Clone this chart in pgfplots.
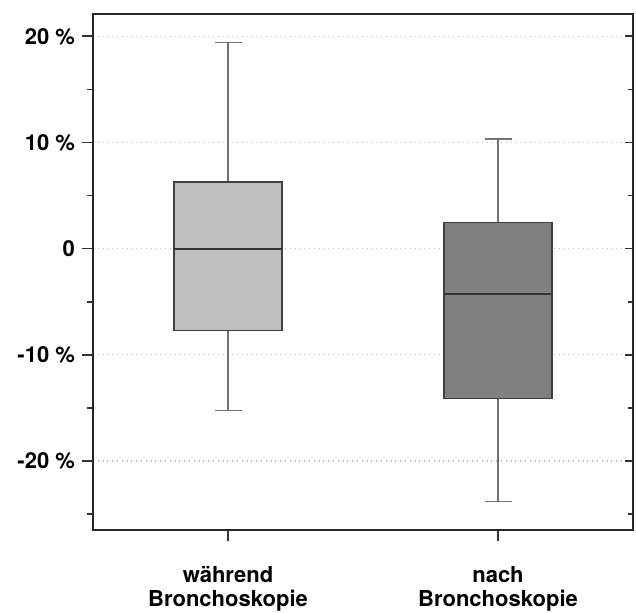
\documentclass[border=0pt]{standalone}
\usepackage{fontspec}
\setmainfont{TeX Gyre Heros}
\usepackage{pgfplots}
\pgfplotsset{compat=1.18}
\usepgfplotslibrary{statistics}
\begin{document}
\begin{tikzpicture}
\useasboundingbox (-46.5pt,-41pt) rectangle (271.5pt,265pt);
\begin{axis}[
 at={(0,0)}, anchor=south west,
 width=270pt, height=258pt, scale only axis,
 xmin=0.5, xmax=2.5, ymin=-26.5, ymax=22.1,
 xtick={1,2}, xticklabels={während\\Bronchoskopie, nach\\Bronchoskopie},
 xticklabel style={align=center, font=\bfseries\fontsize{11}{12}\selectfont, yshift=-9pt},
 ytick={-20,-10,0,10,20}, yticklabels={-20 \%,-10 \%,0,10 \%,20 \%},
 minor ytick={-25,-15,-5,5,15},
 yticklabel style={font=\bfseries\fontsize{11}{12}\selectfont},
 tick align=outside, xtick pos=bottom, ytick pos=left,
 major tick length=5.5pt, minor tick length=3pt,
 every tick/.style={line width=0.8pt, black!80},
 ymajorgrids, major grid style={dotted, line width=0.6pt, gray!55},
 axis line style={line width=1pt, black!85},
 boxplot/draw direction=y,
 boxplot/every box/.style={draw=black!75, line width=0.6pt},
 boxplot/every whisker/.style={draw=black!55, line width=0.7pt},
 boxplot/every median/.style={draw=black!80, line width=0.9pt},
]
\addplot[boxplot prepared={median=0, upper quartile=6.28, lower quartile=-7.72,
  upper whisker=19.4, lower whisker=-15.25, draw position=1,
  box extend=0.4, whisker extend=0.1}, fill=black!25] coordinates {};
\addplot[boxplot prepared={median=-4.3, upper quartile=2.48, lower quartile=-14.15,
  upper whisker=10.33, lower whisker=-23.8, draw position=2,
  box extend=0.4, whisker extend=0.1}, fill=black!50] coordinates {};
\end{axis}
\begin{axis}[
 at={(0,0)}, anchor=south west,
 width=270pt, height=258pt, scale only axis,
 xmin=0.5, xmax=2.5, ymin=-26.5, ymax=22.1,
 xtick=\empty,
 ytick={-20,-10,0,10,20}, yticklabels={},
 minor ytick={-25,-15,-5,5,15},
 tick align=inside, ytick pos=right,
 major tick length=4pt, minor tick length=2.5pt,
 every tick/.style={line width=0.8pt, black!80},
 axis line style={line width=1pt, black!85},
]
\end{axis}
\end{tikzpicture}
\end{document}
